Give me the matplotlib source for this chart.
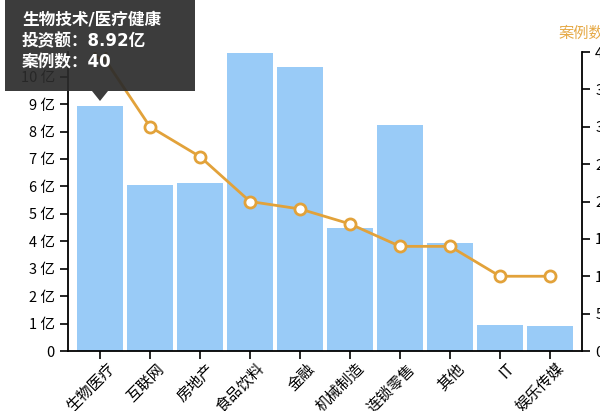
import matplotlib
matplotlib.use('Agg')
import matplotlib.pyplot as plt
import matplotlib.transforms as mtransforms
from matplotlib.patches import Rectangle, Polygon

plt.rcParams['font.family'] = ['Noto Sans CJK SC', 'DejaVu Sans']

# data
categories = ['生物医疗', '互联网', '房地产', '食品饮料', '金融', '机械制造', '连锁零售', '其他', 'IT', '娱乐传媒']
amounts = [8.92, 6.06, 6.13, 10.86, 10.36, 4.49, 8.25, 3.94, 0.95, 0.91]   # 亿
cases = [40, 30, 26, 20, 19, 17, 14, 14, 10, 10]
left_ticks = [0, 1, 2, 3, 4, 5, 6, 7, 8, 9, 10]
left_labels = ['0'] + [f'{v} 亿' for v in left_ticks[1:]]
right_ticks = [0, 5, 10, 15, 20, 25, 30, 35, 40]

blue = '#99CBF7'
orange = '#E2A23A'

fig = plt.figure(figsize=(6.0, 4.11), dpi=100)
ax = fig.add_axes([68 / 600, 60 / 411, 514 / 600, 299 / 411])
x = list(range(len(categories)))
ax.bar(x, amounts, width=0.92, color=blue, zorder=1)
ax.set_xlim(-0.64, 9.64)
ax.set_ylim(0, 10.9)
ax.tick_params(axis='both', direction='out', length=6, width=1.2, colors='black')
ax.set_yticks(left_ticks)
ax.set_yticklabels(left_labels, fontsize=10.5)
ax.set_xticks(x)
ax.set_xticklabels(categories, rotation=45, ha='right', va='center', rotation_mode='anchor', fontsize=11)
# nudge the rotated labels so they hang from the tick like in the reference
# (done after tick_params, which would reset the transforms)
shift = mtransforms.ScaledTranslation(0.12, -0.02, fig.dpi_scale_trans)
for lab in ax.get_xticklabels():
    lab.set_transform(lab.get_transform() + shift)
ax.spines['top'].set_visible(False)
ax.spines['right'].set_visible(False)
for s in ['left', 'bottom']:
    ax.spines[s].set_linewidth(1.3)

ax2 = ax.twinx()
ax2.plot(x, cases, color=orange, lw=2, marker='o', ms=8, mfc='white', mec=orange, mew=2, zorder=3)
ax2.set_ylim(0, 40)
ax2.set_yticks(right_ticks)
ax2.tick_params(axis='y', direction='out', length=6, width=1.2, labelsize=10.5)
ax2.spines['top'].set_visible(False)
ax2.spines['left'].set_visible(False)
ax2.spines['bottom'].set_visible(False)
ax2.spines['right'].set_linewidth(1.3)
fig.text(558 / 600, 1 - 33 / 411, '案例数', color='#E6AA48', fontsize=11, ha='left', va='center')

# tooltip box
W, H = 600, 411
fig.add_artist(Rectangle((5 / W, 1 - 91 / H), 190 / W, 91 / H, transform=fig.transFigure,
                         facecolor='#2b2b2b', alpha=0.92, edgecolor='none', zorder=10))
fig.add_artist(Polygon([(92 / W, 1 - 91 / H), (108 / W, 1 - 91 / H), (100 / W, 1 - 101 / H)],
                       closed=True, transform=fig.transFigure,
                       facecolor='#2b2b2b', alpha=0.92, edgecolor='none', zorder=10))
tip_lines = ['生物技术/医疗健康', f'投资额：{amounts[0]}亿', f'案例数：{cases[0]}']
for i, t in enumerate(tip_lines):
    fig.text(22 / W, 1 - (20 + 21 * i) / H, t, color='white', fontsize=12,
             fontweight='bold', family=['DejaVu Sans', 'Noto Sans CJK SC'],
             ha='left', va='center', zorder=11)

fig.savefig('out.png', dpi=100)
